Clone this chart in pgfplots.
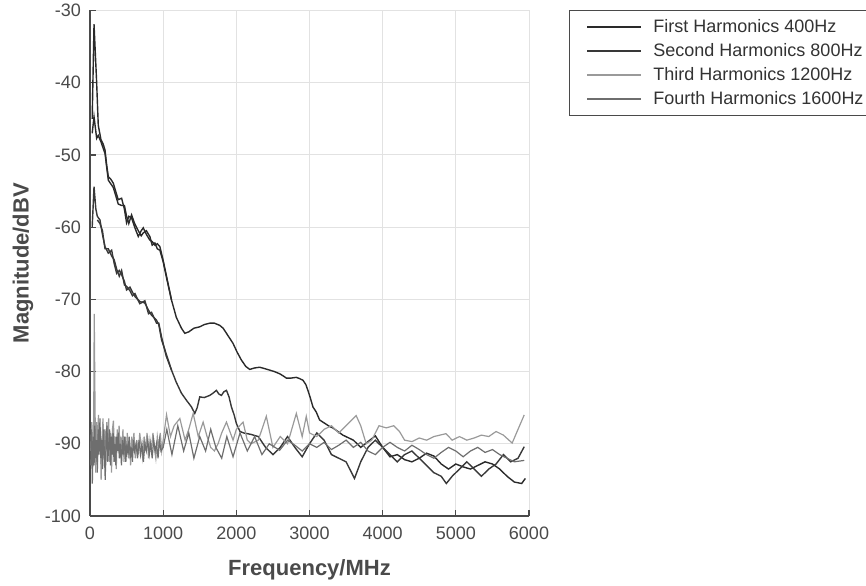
\documentclass[border=0pt]{standalone}
\usepackage{fontspec}
\setmainfont{Liberation Sans}
\usepackage{pgfplots}
\pgfplotsset{compat=1.18}

\definecolor{axgray}{HTML}{4A4A4A}
\definecolor{gridgray}{HTML}{E2E2E2}
\definecolor{hA}{HTML}{2A2A2A}
\definecolor{hB}{HTML}{383838}
\definecolor{hC}{HTML}{9A9A9A}
\definecolor{hD}{HTML}{6E6E6E}

% First harmonic, two traces
\pgfplotstableread{
x y
30 -45
55 -31.9
91 -40
113 -45.9
150 -47.9
180 -48.5
205 -49.3
228 -51.4
250 -53
280 -53.3
318 -53.9
350 -55
386 -56.2
432 -56
470 -57.5
500 -59.4
530 -58.5
568 -58.7
610 -60
660 -61.3
700 -60.5
728 -60.1
770 -61
818 -61.8
850 -62
887 -62.5
920 -62.3
955 -62.7
1000 -64.6
1050 -67
1114 -70.1
1180 -72.5
1250 -74
1296 -74.7
1350 -74.5
1420 -74
1500 -73.8
1560 -73.5
1637 -73.3
1700 -73.3
1773 -73.6
1820 -74
1865 -74.7
1910 -75.4
1955 -76.1
2010 -77.3
2069 -78.4
2130 -79.3
2183 -79.7
2250 -79.5
2319 -79.4
2390 -79.6
2456 -79.8
2520 -80
2592 -80.3
2640 -80.6
2683 -80.9
2750 -80.9
2820 -80.8
2870 -81
2910 -81.2
2950 -81.8
2978 -82.6
3010 -83.6
3047 -84.9
3092 -85.6
3138 -86.7
3183 -87
3274 -87.6
3319 -87.8
3456 -88.8
3600 -89.5
3700 -90.5
3800 -89.7
3900 -88.9
4000 -90.5
4100 -91.8
4200 -91.5
4300 -92.2
4400 -92.5
4500 -92
4600 -91.3
4700 -91.7
4800 -92.8
4900 -93.5
5000 -92.8
5100 -93.2
5200 -93.5
5300 -93
5400 -92.5
5500 -92.8
5600 -93.5
5700 -94.5
5800 -95.3
5900 -95.5
5950 -94.8
}\firstA
\pgfplotstableread{
x y
30 -47
55 -44.7
91 -47.7
113 -47.3
150 -48.2
205 -49.8
250 -53.5
318 -54.5
386 -56.8
432 -57
470 -57
500 -58.5
530 -59.5
568 -58.3
610 -59.5
660 -60.5
700 -61.2
728 -60.8
770 -60.5
818 -61.3
850 -62.5
887 -62.2
920 -63
955 -63.2
1000 -64.8
1050 -67.2
1114 -70.1
}\firstB

% Second harmonic, two traces
\pgfplotstableread{
x y
30 -60
55 -54.4
80 -57.5
100 -58.5
136 -59
170 -61
205 -62.7
250 -63.6
296 -63.2
330 -65
364 -66.4
400 -66
432 -66.6
470 -67.5
500 -68.7
546 -68.3
580 -69
614 -69.6
680 -70.3
750 -70.5
800 -71.5
841 -72.2
910 -72.9
940 -73.5
978 -75.6
1040 -77.5
1114 -79.8
1180 -81.5
1250 -83
1320 -84
1387 -84.9
1432 -85.8
1465 -85
1500 -83.5
1560 -83.6
1637 -83.3
1680 -83
1728 -82.6
1760 -83.1
1796 -83.3
1830 -82.8
1865 -82.6
1900 -83.5
1933 -84.9
1970 -86
2001 -87.2
2050 -88.3
2100 -88.5
2200 -88.7
2300 -89
2400 -90.5
2500 -91.5
2600 -90.5
2700 -89
2800 -90.5
2900 -91.8
3000 -90
3100 -88.5
3200 -89.5
3300 -91.5
3400 -92
3500 -92.5
3615 -94.8
3700 -92.5
3800 -90.5
3900 -89.5
4000 -90.5
4100 -91.5
4200 -92.5
4300 -91.5
4400 -91
4500 -92
4600 -93
4700 -94
4800 -94.5
4870 -95.5
4950 -94.5
5050 -93.5
5150 -92.5
5250 -93.5
5350 -94.5
5450 -93.5
5550 -92.8
5650 -91.5
5750 -92.5
5850 -92
5935 -90.4
}\secondA
\pgfplotstableread{
x y
100 -59
136 -59.5
170 -60.5
205 -63
250 -63
296 -64
330 -64.5
364 -65.8
400 -66.8
432 -66
470 -68
500 -68.2
546 -68.8
580 -69.5
614 -69.2
680 -70.6
750 -70.2
800 -72
841 -71.8
910 -73.3
940 -73.3
978 -75.2
1040 -77.8
1114 -79.8
}\secondB

% Third harmonic
\pgfplotstableread{
x y
10 -91
25 -87
40 -93
50 -88
58 -72
68 -84
78 -94
90 -87
102 -92.5
115 -86
128 -91
140 -88
152 -95
165 -89
178 -86.5
190 -92
203 -88
216 -93
229 -87
242 -90.5
255 -86.5
268 -92.5
281 -88.5
294 -94
307 -88
320 -86.8
333 -91
346 -89
359 -93.5
372 -88
385 -90.5
398 -87.5
411 -92
424 -89
437 -91.5
450 -88
465 -92.5
480 -89
495 -91.5
510 -88.5
525 -92
540 -89.5
555 -93
570 -89
585 -91
600 -88.5
620 -92
640 -89.5
660 -91.5
680 -88.5
700 -90.5
720 -92
740 -89
760 -91
780 -88.5
800 -92
820 -89.5
840 -91
860 -88.5
880 -90.5
900 -92
920 -89
940 -90.5
960 -88.5
980 -91
1000 -89.5
1046 -86
1100 -89
1150 -87.5
1228 -86.5
1300 -89.5
1350 -88
1410 -85.8
1480 -89
1546 -87
1600 -89
1650 -90.5
1700 -91
1750 -90
1800 -88.5
1865 -87
1955 -89.5
2000 -88
2092 -87
2150 -89.5
2200 -90
2300 -89.5
2350 -88
2410 -86.2
2500 -90.5
2600 -89
2700 -90
2820 -85.8
2900 -89
2956 -86.2
3000 -88.5
3100 -89
3200 -88
3300 -87.5
3400 -88.5
3500 -87.5
3638 -86.1
3700 -87.5
3775 -90
3850 -89.5
3950 -87.5
4050 -87.8
4150 -87.5
4230 -88.3
4300 -89.5
4400 -89.7
4500 -89.2
4600 -89.5
4700 -89
4866 -88.6
4950 -89.5
5050 -89
5150 -89.5
5250 -89.2
5350 -88.8
5450 -89
5550 -88.3
5650 -88.8
5770 -89.9
5850 -88
5935 -86
}\third

% Fourth harmonic
\pgfplotstableread{
x y
10 -93
20 -88
32 -95.5
44 -89
56 -93
66 -87.5
76 -92
88 -89.5
100 -94
112 -88
124 -91.5
136 -86.5
148 -92
160 -89.5
172 -93.5
184 -88
196 -91
208 -95
220 -89.5
232 -87.5
244 -92.5
256 -90
268 -88
280 -93
292 -89
304 -91.5
316 -88.5
328 -92.5
340 -90
352 -93
364 -89
376 -91
388 -88.5
400 -92
415 -90
430 -93
445 -89.5
460 -91.5
475 -89
490 -92.5
505 -90
520 -91.5
535 -89
550 -92
565 -90.5
580 -92.5
595 -89.5
610 -91
630 -90
650 -92
670 -89.5
690 -91.5
710 -90
730 -92.5
750 -90
770 -91
790 -89.5
810 -91.5
830 -90
850 -92
870 -89.5
890 -91
910 -90
930 -92
950 -89.5
970 -91
1000 -90.5
1050 -88
1120 -91.5
1200 -87.5
1280 -91
1350 -88.5
1420 -92
1500 -89
1580 -91
1650 -88
1720 -90.5
1800 -92
1870 -89
1955 -91.8
2050 -88.5
2150 -91
2250 -89
2350 -91.5
2450 -90
2592 -90.9
2700 -89.5
2800 -90.2
2900 -91
3000 -90
3100 -90.5
3200 -89.8
3300 -90.8
3400 -90.2
3500 -89.5
3600 -90.5
3700 -89.8
3800 -91
3900 -91.5
4000 -90.5
4100 -89.8
4200 -90.5
4300 -91
4400 -90.2
4500 -90.8
4600 -91.5
4700 -92
4800 -91.2
4900 -90.5
5000 -91
5100 -91.8
5200 -91
5300 -90.5
5400 -91.2
5500 -90.8
5600 -91.5
5700 -92
5800 -92.5
5935 -92.3
}\fourth

\begin{document}
\begin{tikzpicture}
\begin{axis}[
  name=ax,
  scale only axis,
  width=219.5pt, height=252.75pt,
  xmin=0, xmax=6000, ymin=-100, ymax=-30,
  xtick={0,1000,...,6000},
  ytick={-100,-90,...,-30},
  axis x line*=bottom, axis y line*=left,
  axis line style={axgray, line width=0.6pt, -},
  tick style={axgray, line width=0.6pt},
  tick align=inside,
  major tick length=3pt,
  grid=major,
  major grid style={gridgray, line width=0.5pt},
  /pgf/number format/assume math mode=true,
  /pgf/number format/1000 sep={},
  ticklabel style={font=\fontsize{9}{10}\selectfont, text=axgray},
  xticklabel style={yshift=-2pt},
  yticklabel style={xshift=-1pt},
  xlabel={\bfseries Frequency/MHz},
  ylabel={\bfseries Magnitude/dBV},
  label style={font=\fontsize{11}{12}\selectfont, text=axgray},
  xlabel style={yshift=-3pt},
  ylabel style={yshift=-1pt},
  legend style={
    at={(1.091,1)}, anchor=north west,
    draw=axgray, line width=0.5pt,
    font=\fontsize{9}{10.85}\selectfont,
    text=black!80,
    inner xsep=4pt, inner ysep=2pt,
    row sep=0pt,
    cells={anchor=west},
  },
  legend image code/.code={%
    \path[draw=none, fill=none] (0pt,0pt) rectangle (36pt,0pt);
    \draw[#1, line width=0.7pt] (5pt,0pt) -- (32pt,0pt);},
  every axis plot/.append style={line width=0.7pt},
  clip=true,
]
\addplot[hA] table {\firstA};
\addlegendentry{First Harmonics 400Hz}
\addplot[hB] table {\secondA};
\addlegendentry{Second Harmonics 800Hz}
\addplot[hC, line width=0.6pt] table {\third};
\addlegendentry{Third Harmonics 1200Hz}
\addplot[hD, line width=0.6pt] table {\fourth};
\addlegendentry{Fourth Harmonics 1600Hz}
\addplot[hA, forget plot] table {\firstB};
\addplot[hB, forget plot] table {\secondB};
\end{axis}
\pgfresetboundingbox
\path[use as bounding box] ([shift={(-45pt,-35pt)}]ax.south west) rectangle ([shift={(168.5pt,5.25pt)}]ax.north east);
\end{tikzpicture}
\end{document}
